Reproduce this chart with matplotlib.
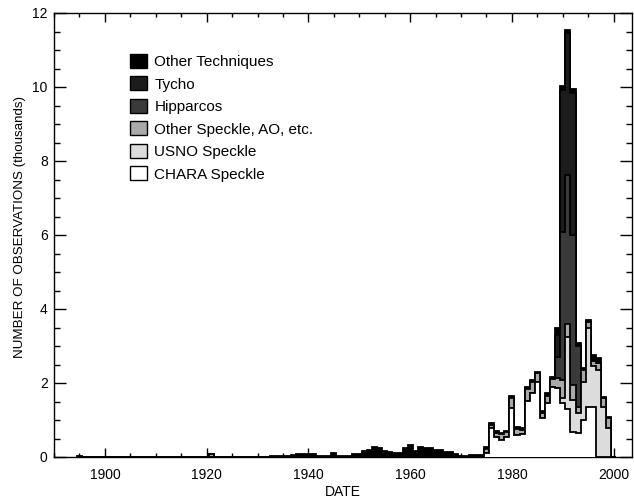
import numpy as np
import matplotlib
matplotlib.use("Agg")
import matplotlib.pyplot as plt
from matplotlib.patches import Patch
from matplotlib.ticker import MultipleLocator

plt.rcParams['font.family'] = ['Liberation Sans', 'DejaVu Sans']

# ---------------- data (thousands of observations per year) ----------------
early_years = list(range(1895, 1975))
early_other_tech = [
    0.03,
    0.0, 0.0, 0.0, 0.0, 0.0, 0.0, 0.0, 0.0, 0.0, 0.0,
    0.0, 0.0, 0.0, 0.0, 0.0, 0.0, 0.0, 0.0, 0.0, 0.0,
    0.0, 0.0, 0.0, 0.0, 0.0, 0.0, 0.0, 0.0, 0.0, 0.0,
    0.0, 0.0, 0.0, 0.0, 0.0, 0.0, 0.0,
    0.04, 0.04, 0.04, 0.03, 0.05, 0.07, 0.07, 0.07, 0.07, 0.02,
    0.02, 0.02, 0.10, 0.04, 0.04, 0.04, 0.09, 0.09, 0.17, 0.20,
    0.26, 0.23, 0.17, 0.14, 0.10, 0.10, 0.23, 0.33, 0.16, 0.26,
    0.23, 0.23, 0.18, 0.18, 0.14, 0.14, 0.07, 0.04, 0.04, 0.06,
    0.06, 0.06,
]
early_speckle_years = [1921]
early_speckle_values = [0.08]

modern_years = list(range(1975, 2001))
chara = [0.12, 0.78, 0.55, 0.47, 0.55, 1.32, 0.60, 0.62, 1.52, 1.74,
         2.04, 1.05, 1.45, 1.90, 1.86, 1.45, 1.30, 0.68, 0.65, 1.00,
         1.36, 1.36, 0.00, 0.00, 0.00, 0.00]
usno = [0.0, 0.0, 0.0, 0.0, 0.0, 0.0, 0.0, 0.0, 0.0, 0.0,
        0.0, 0.0, 0.0, 0.0, 0.0, 0.14, 1.95, 0.86, 0.53, 1.04,
        2.12, 1.10, 2.35, 1.36, 0.78, 0.0]
other_speckle = [0.10, 0.09, 0.09, 0.14, 0.12, 0.28, 0.15, 0.12, 0.33, 0.30,
                 0.22, 0.15, 0.21, 0.22, 0.27, 0.49, 0.34, 0.41, 0.18, 0.31,
                 0.17, 0.14, 0.20, 0.24, 0.28, 0.0]
hipparcos = [0.0, 0.0, 0.0, 0.0, 0.0, 0.0, 0.0, 0.0, 0.0, 0.0,
             0.0, 0.0, 0.0, 0.0, 0.58, 4.00, 4.03, 4.05, 1.64, 0.0,
             0.0, 0.0, 0.0, 0.0, 0.0, 0.0]
tycho = [0.0, 0.0, 0.0, 0.0, 0.0, 0.0, 0.0, 0.0, 0.0, 0.0,
         0.0, 0.0, 0.0, 0.0, 0.59, 3.85, 3.83, 3.85, 0.0, 0.0,
         0.0, 0.0, 0.0, 0.0, 0.0, 0.0]
other_tech = [0.06, 0.05, 0.05, 0.05, 0.04, 0.05, 0.05, 0.05, 0.05, 0.05,
              0.05, 0.05, 0.06, 0.05, 0.18, 0.10, 0.10, 0.09, 0.08, 0.05,
              0.05, 0.15, 0.12, 0.03, 0.03, 0.0]

labels = ["Other Techniques", "Tycho", "Hipparcos",
          "Other Speckle, AO, etc.", "USNO Speckle", "CHARA Speckle"]
colors = ["#000000", "#1c1c1c", "#3a3a3a", "#a9a9a9", "#dcdcdc", "#ffffff"]

# ---------------- assemble full yearly series ----------------
years = np.arange(1895, 2001)
n = len(years)


def full(yrs, vals):
    arr = np.zeros(n)
    for y, v in zip(yrs, vals):
        arr[y - 1895] += v
    return arr


s_chara = full(modern_years, chara)
s_usno = full(modern_years, usno)
s_osp = full(modern_years, other_speckle) + full(early_speckle_years, early_speckle_values)
s_hip = full(modern_years, hipparcos)
s_tyc = full(modern_years, tycho)
s_oth = full(modern_years, other_tech) + full(early_years, early_other_tech)

layers = [s_chara, s_usno, s_osp, s_hip, s_tyc, s_oth]  # bottom -> top
cum = np.cumsum(np.vstack(layers), axis=0)
edges = np.append(years - 0.5, years[-1] + 0.5)

fig = plt.figure(figsize=(6.34, 4.99), dpi=100)
ax = fig.add_axes([54 / 634, 42 / 499, 578 / 634, 444 / 499])

layer_colors_bottom_up = colors[::-1]
for k in range(len(layers) - 1, -1, -1):
    ax.stairs(cum[k], edges, baseline=0, fill=True,
              facecolor=layer_colors_bottom_up[k], edgecolor='none', zorder=2 + (5 - k))
    ax.stairs(cum[k], edges, baseline=0, fill=False,
              color='black', linewidth=1.3, zorder=2.5 + (5 - k))

ax.set_xlim(1890, 2003.6)
ax.set_ylim(0, 12)
ax.xaxis.set_major_locator(MultipleLocator(20))
ax.xaxis.set_minor_locator(MultipleLocator(5))
ax.yaxis.set_major_locator(MultipleLocator(2))
ax.yaxis.set_minor_locator(MultipleLocator(0.5))
ax.tick_params(axis='x', which='major', direction='in', length=6.5, width=1,
               top=True, labelsize=10, pad=8)
ax.tick_params(axis='x', which='minor', direction='in', length=3.2, width=1, top=True)
ax.tick_params(axis='y', which='major', direction='in', length=8.3, width=1,
               right=True, labelsize=10, pad=4.5)
ax.tick_params(axis='y', which='minor', direction='in', length=4.2, width=1, right=True)
for sp in ax.spines.values():
    sp.set_linewidth(1)

ax.set_xlabel("DATE", fontsize=10, labelpad=2)
ax.set_ylabel("NUMBER OF OBSERVATIONS (thousands)", fontsize=9.6)
ax.yaxis.set_label_coords(-0.049, 0.518)

handles = [Patch(facecolor=c, edgecolor='black', linewidth=1) for c in colors]
ax.legend(handles, labels, loc='upper left', bbox_to_anchor=(0.1315, 0.908),
          frameon=False, fontsize=11, handlelength=1.1, handleheight=1.05,
          handletextpad=0.5, labelspacing=0.47, borderpad=0, borderaxespad=0)

fig.savefig("out.png", dpi=100)
